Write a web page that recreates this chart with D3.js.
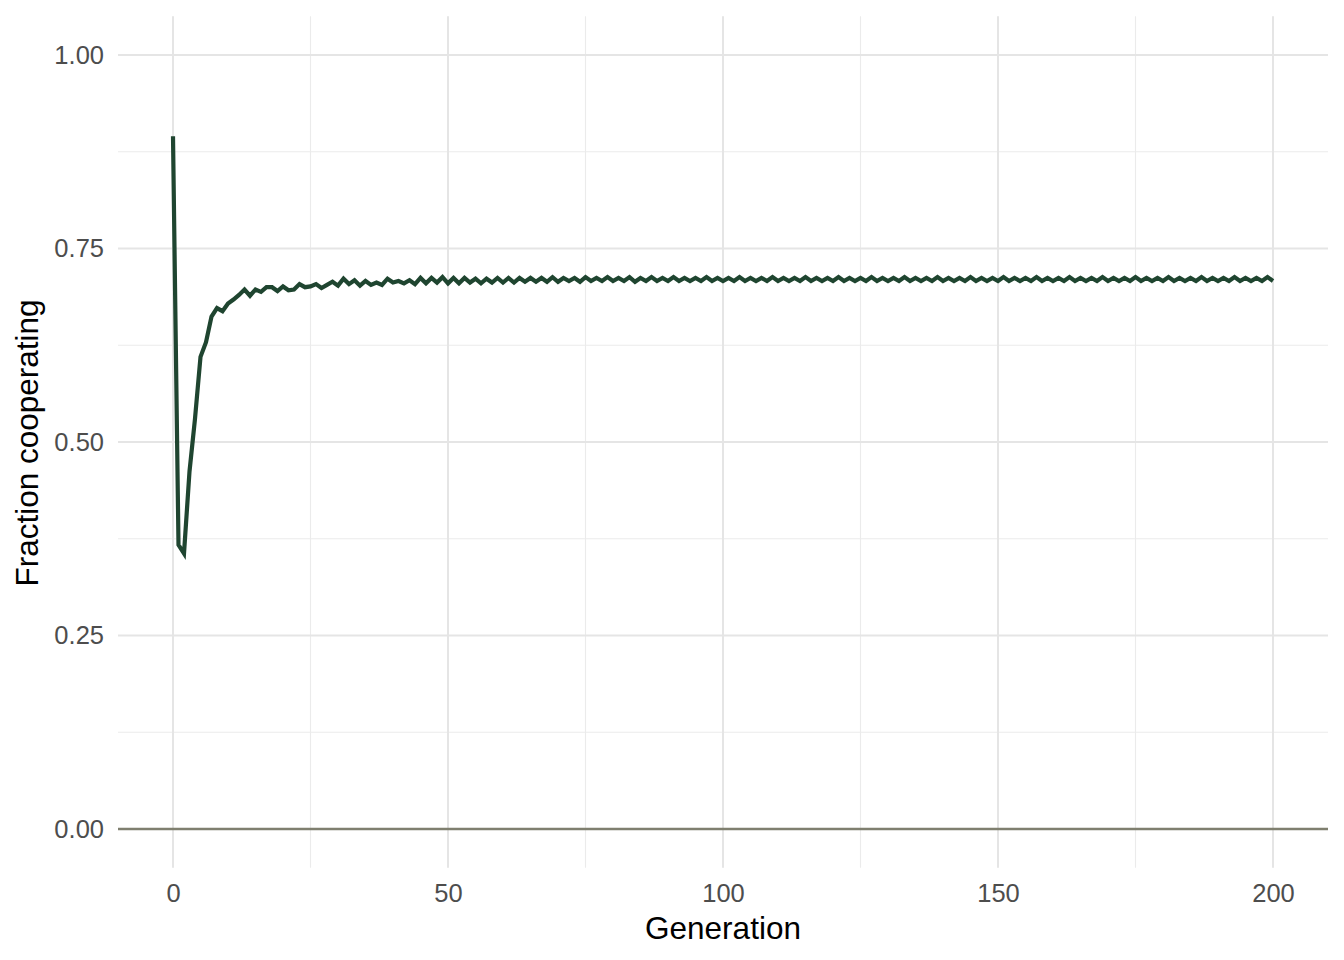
<!DOCTYPE html>
<html>
<head>
<meta charset="utf-8">
<script src="https://cdn.jsdelivr.net/npm/d3@7"></script>
<style>
  body { margin: 0; background: #fff; }
  text { font-family: "Liberation Sans", Arial, sans-serif; }
</style>
</head>
<body>
<div id="drawing"></div>
<script>
// fraction cooperating per generation (0..200)
var coop = [
  0.895, 0.367, 0.356, 0.462, 0.530, 0.610, 0.629, 0.662, 0.673, 0.669,
  0.679, 0.684, 0.690, 0.697, 0.689, 0.697, 0.694, 0.700, 0.700, 0.695,
  0.701, 0.696, 0.697, 0.704, 0.700, 0.701, 0.704, 0.699, 0.703, 0.707,
  0.702, 0.711, 0.704, 0.709, 0.702, 0.708, 0.703, 0.706, 0.703, 0.711,
  0.706, 0.708, 0.705, 0.709, 0.704, 0.712, 0.705, 0.712, 0.706, 0.713,
  0.705, 0.712, 0.705, 0.712, 0.706, 0.711, 0.705, 0.711, 0.706, 0.712,
  0.706, 0.712, 0.706, 0.712, 0.707, 0.712, 0.707, 0.712, 0.707, 0.713,
  0.707, 0.712, 0.708, 0.712, 0.707, 0.713, 0.708, 0.712, 0.708, 0.713,
  0.708, 0.712, 0.708, 0.713, 0.707, 0.712, 0.708, 0.713, 0.708, 0.712,
  0.708, 0.713, 0.708, 0.712, 0.708, 0.712, 0.708, 0.713, 0.708, 0.712,
  0.708, 0.712, 0.708, 0.713, 0.708, 0.712, 0.708, 0.712, 0.708, 0.713,
  0.708, 0.712, 0.708, 0.712, 0.708, 0.713, 0.708, 0.712, 0.708, 0.712,
  0.708, 0.713, 0.708, 0.712, 0.708, 0.712, 0.708, 0.713, 0.708, 0.712,
  0.708, 0.712, 0.708, 0.713, 0.708, 0.712, 0.708, 0.712, 0.708, 0.713,
  0.708, 0.712, 0.708, 0.712, 0.708, 0.713, 0.708, 0.712, 0.708, 0.712,
  0.708, 0.713, 0.708, 0.712, 0.708, 0.712, 0.708, 0.713, 0.708, 0.712,
  0.708, 0.712, 0.708, 0.713, 0.708, 0.712, 0.708, 0.712, 0.708, 0.713,
  0.708, 0.712, 0.708, 0.712, 0.708, 0.713, 0.708, 0.712, 0.708, 0.712,
  0.708, 0.713, 0.708, 0.712, 0.708, 0.712, 0.708, 0.713, 0.708, 0.712,
  0.708, 0.712, 0.708, 0.713, 0.708, 0.712, 0.708, 0.712, 0.708, 0.713,
  0.708
];
var generations = coop.map(function(d, i) { return i; });

var xMajor = [0, 50, 100, 150, 200];
var xMinor = [25, 75, 125, 175];
var yMajor = [0, 0.25, 0.5, 0.75, 1];
var yMinor = [0.125, 0.375, 0.625, 0.875];

var width = 1344, height = 960;
var panel = {left: 118, right: 1328, top: 16.3, bottom: 867.7};

var svg = d3.select("#drawing").append("svg")
  .attr("width", width)
  .attr("height", height);

var x = d3.scaleLinear().domain([-10, 210]).range([panel.left, panel.right]);
var y = d3.scaleLinear().domain([-0.05, 1.05]).range([panel.bottom, panel.top]);

var grid = svg.append("g");

grid.selectAll(".xminor").data(xMinor).enter().append("line")
  .attr("x1", d => x(d)).attr("x2", d => x(d))
  .attr("y1", panel.top).attr("y2", panel.bottom)
  .style("stroke", "#ebebeb").style("stroke-width", 1.1);
grid.selectAll(".yminor").data(yMinor).enter().append("line")
  .attr("x1", panel.left).attr("x2", panel.right)
  .attr("y1", d => y(d)).attr("y2", d => y(d))
  .style("stroke", "#ebebeb").style("stroke-width", 1.1);
grid.selectAll(".xmajor").data(xMajor).enter().append("line")
  .attr("x1", d => x(d)).attr("x2", d => x(d))
  .attr("y1", panel.top).attr("y2", panel.bottom)
  .style("stroke", "#e5e5e5").style("stroke-width", 2);
grid.selectAll(".ymajor").data(yMajor).enter().append("line")
  .attr("x1", panel.left).attr("x2", panel.right)
  .attr("y1", d => y(d)).attr("y2", d => y(d))
  .style("stroke", "#e5e5e5").style("stroke-width", 2);

// reference line at zero
svg.append("line")
  .attr("x1", panel.left).attr("x2", panel.right)
  .attr("y1", y(0)).attr("y2", y(0))
  .style("stroke", "#7f7f6f").style("stroke-width", 2.5);

var line = d3.line()
  .x((d, i) => x(generations[i]))
  .y(d => y(d));

svg.append("path")
  .attr("d", line(coop))
  .style("fill", "none")
  .style("stroke", "#1f4530")
  .style("stroke-width", 4.2)
  .style("stroke-linejoin", "miter");

// axes (labels only, no domain or tick marks)
var xAxis = svg.append("g")
  .attr("transform", `translate(0, ${panel.bottom})`)
  .call(d3.axisBottom(x).tickValues(xMajor).tickSize(0).tickPadding(16).tickFormat(d3.format("d")));
var yAxis = svg.append("g")
  .attr("transform", `translate(${panel.left}, 0)`)
  .call(d3.axisLeft(y).tickValues(yMajor).tickSize(0).tickPadding(14).tickFormat(d3.format(".2f")));

[xAxis, yAxis].forEach(function(a) {
  a.select(".domain").remove();
  a.selectAll("text")
    .style("font-family", "'Liberation Sans', Arial, sans-serif")
    .style("font-size", "25.5px")
    .style("fill", "#4d4d4d");
});

svg.append("text")
  .attr("x", (panel.left + panel.right) / 2)
  .attr("y", 939)
  .attr("text-anchor", "middle")
  .style("font-size", "31.5px")
  .style("fill", "#000")
  .text("Generation");

svg.append("text")
  .attr("transform", `translate(38, ${(panel.top + panel.bottom) / 2 + 1}) rotate(-90)`)
  .attr("text-anchor", "middle")
  .style("font-size", "31.5px")
  .style("fill", "#000")
  .text("Fraction cooperating");
</script>
</body>
</html>
